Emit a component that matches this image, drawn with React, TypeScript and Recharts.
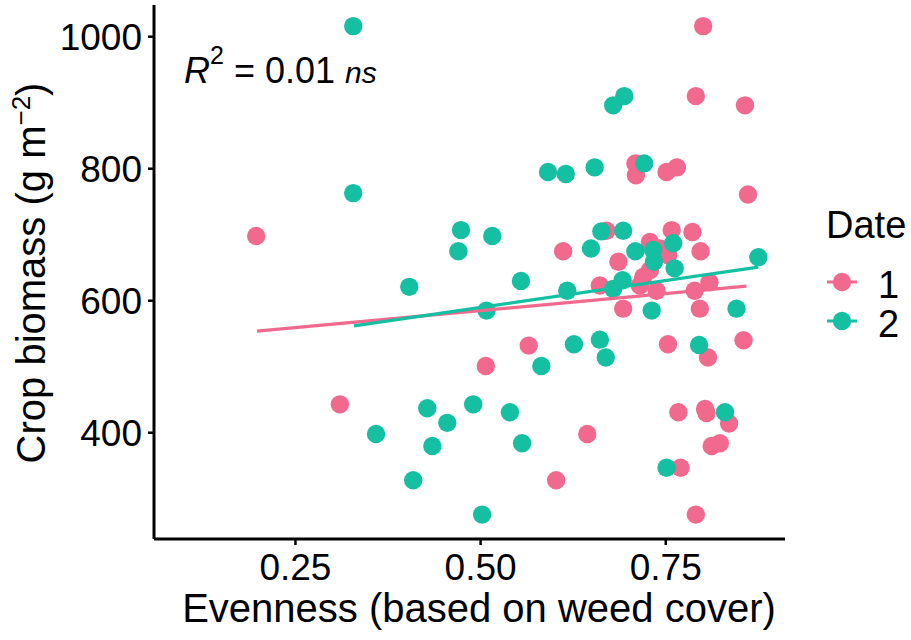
import { Scatter, ScatterChart, XAxis, YAxis } from "recharts"

const PINK = "#F1698D"
const TEAL = "#14BFA2"
const FONT = "'Liberation Sans', Arial, sans-serif"

// Date 1 (pink): evenness and crop biomass
const date1Evenness = [
  0.197, 0.31, 0.507, 0.565, 0.602, 0.644, 0.6115, 0.67, 0.686, 0.6925, 0.661, 0.709, 0.7097, 0.715,
  0.7195, 0.7286, 0.7286, 0.742, 0.7376, 0.751, 0.765, 0.753, 0.753, 0.758, 0.767, 0.77, 0.786, 0.789,
  0.7906, 0.7906, 0.796, 0.797, 0.8005, 0.803, 0.805, 0.807, 0.809, 0.812, 0.823, 0.8355, 0.855, 0.857,
  0.861,
]
const date1Biomass = [
  698, 443, 501, 532, 328, 398, 675, 706, 659, 588, 623, 808, 790, 623, 636, 689, 646, 679, 615, 795,
  802, 669, 534, 707, 431, 347, 704, 615, 910, 276, 588, 675, 1016, 436, 430, 514, 628, 380, 384, 414,
  540, 896, 761,
]

// Date 2 (teal)
const date2Evenness = [
  0.328, 0.328, 0.3588, 0.4037, 0.409, 0.428, 0.4348, 0.455, 0.47, 0.4735, 0.49, 0.502, 0.508, 0.5157,
  0.5396, 0.5545, 0.556, 0.582, 0.591, 0.615, 0.617, 0.626, 0.649, 0.654, 0.661, 0.663, 0.669, 0.679,
  0.679, 0.6917, 0.6925, 0.694, 0.709, 0.7208, 0.731, 0.733, 0.734, 0.751, 0.76, 0.762, 0.795, 0.83,
  0.8455, 0.875,
]
const date2Biomass = [
  1016, 763, 398, 621, 328, 437, 380, 415, 675, 707, 443, 276, 585, 698, 431, 630, 384, 501, 795, 792,
  615, 534, 679, 802, 541, 705, 514, 896, 618, 631, 706, 910, 675, 808, 585, 677, 659, 347, 687, 649,
  533, 431, 588, 666,
]

// fitted lm lines (ends)
const fit1Evenness = [0.198, 0.859]
const fit1Biomass = [554, 622]
const fit2Evenness = [0.329, 0.875]
const fit2Biomass = [562, 651]

const xTicks = [0.25, 0.5, 0.75]
const yTicks = [400, 600, 800, 1000]
const legendLabels = ["1", "2"]

const toPoints = (xs: number[], ys: number[]) => xs.map((x, i) => ({ x, y: ys[i] }))

const dot = (color: string) => (props: any) => (
  <circle cx={props.cx} cy={props.cy} r={9.2} fill={color} />
)
const noDot = () => <g />

const XTick = ({ x, y, payload }: any) => (
  <text x={x} y={y} dy={35} textAnchor="middle" fontSize={37} fontFamily={FONT} fill="#000">
    {payload.value.toFixed(2)}
  </text>
)

const YTick = ({ x, y, payload }: any) => (
  <text x={x - 6} y={y} dy={13} textAnchor="end" fontSize={37} fontFamily={FONT} fill="#000">
    {payload.value}
  </text>
)

export default function App() {
  return (
    <div style={{ position: "absolute", left: 0, top: 0, width: 911, height: 640, background: "#fff" }}>
      <ScatterChart width={911} height={640} margin={{ top: 5, right: 126, bottom: 0, left: 0 }}>
        <XAxis
          type="number"
          dataKey="x"
          domain={[0.059, 0.911]}
          ticks={xTicks}
          allowDataOverflow
          height={101}
          tickSize={6}
          tickMargin={0}
          axisLine={{ stroke: "#000", strokeWidth: 3 }}
          tickLine={{ stroke: "#000", strokeWidth: 2.5 }}
          tick={<XTick />}
        />
        <YAxis
          type="number"
          dataKey="y"
          domain={[239, 1048]}
          ticks={yTicks}
          allowDataOverflow
          width={154}
          tickSize={6}
          tickMargin={0}
          axisLine={{ stroke: "#000", strokeWidth: 3 }}
          tickLine={{ stroke: "#000", strokeWidth: 2.5 }}
          tick={<YTick />}
        />
        <Scatter data={toPoints(date1Evenness, date1Biomass)} shape={dot(PINK)} isAnimationActive={false} />
        <Scatter data={toPoints(date2Evenness, date2Biomass)} shape={dot(TEAL)} isAnimationActive={false} />
        <Scatter
          data={toPoints(fit1Evenness, fit1Biomass)}
          line={{ stroke: PINK, strokeWidth: 3.2 }}
          shape={noDot}
          isAnimationActive={false}
        />
        <Scatter
          data={toPoints(fit2Evenness, fit2Biomass)}
          line={{ stroke: TEAL, strokeWidth: 3.2 }}
          shape={noDot}
          isAnimationActive={false}
        />

        {/* axis titles */}
        <text x={479} y={622} textAnchor="middle" fontSize={40} fontFamily={FONT} fill="#000">
          Evenness (based on weed cover)
        </text>
        <text transform="rotate(-90)" x={-273} y={45} textAnchor="middle" fontSize={40} fontFamily={FONT} fill="#000">
          Crop biomass (g m<tspan fontSize={26} dy={-15}>−2</tspan>
          <tspan dy={15}>)</tspan>
        </text>

        {/* R² annotation */}
        <text x={184} y={83} fontSize={36} fontFamily={FONT} fill="#000">
          <tspan fontStyle="italic">R</tspan>
          <tspan fontSize={25} dy={-19}>2</tspan>
          <tspan dy={19}> = 0.01 </tspan>
          <tspan fontStyle="italic" fontSize={30}>ns</tspan>
        </text>

        {/* legend */}
        <text x={826} y={238} fontSize={38} fontFamily={FONT} fill="#000">
          Date
        </text>
        {legendLabels.map((label, i) => {
          const cy = 282 + i * 39
          const color = i === 0 ? PINK : TEAL
          return (
            <g key={label}>
              <line x1={827} x2={857} y1={cy} y2={cy} stroke={color} strokeWidth={3} />
              <circle cx={842} cy={cy} r={9.2} fill={color} />
              <text x={878} y={cy + 16} fontSize={38} fontFamily={FONT} fill="#000">
                {label}
              </text>
            </g>
          )
        })}
      </ScatterChart>
    </div>
  )
}
